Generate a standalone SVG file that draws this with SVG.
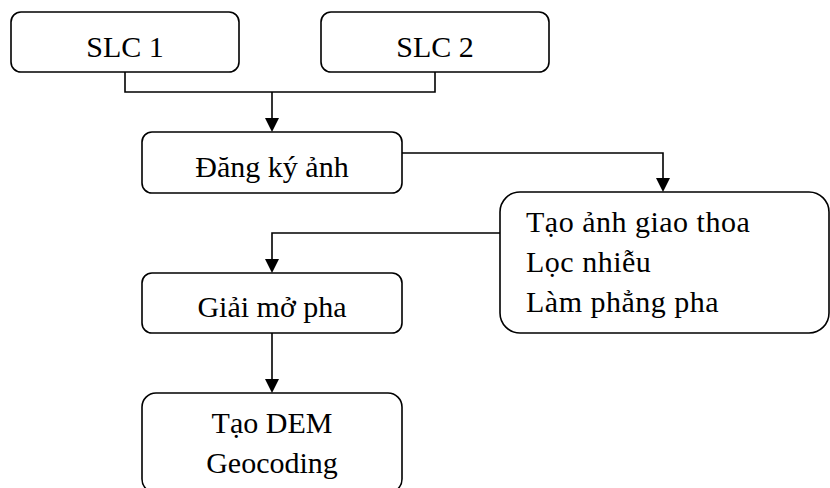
<svg xmlns="http://www.w3.org/2000/svg" width="830" height="488" viewBox="0 0 830 488">
<style>
.box{fill:#fff;stroke:#000;stroke-width:1.6}
.t{font-family:"Liberation Serif","Times New Roman",serif;font-size:30px;fill:#000}
.c{text-anchor:middle}
.ln{fill:none;stroke:#000;stroke-width:1.6}
.ah{fill:#000}
</style>
<g id="connectors">
<path class="ln" d="M125,72 V92 H435 V72"/>
<path class="ln" d="M272,92 V118"/>
<path class="ah" d="M265,118 H279 L272,132 Z"/>
<path class="ln" d="M402,153 H663 V178"/>
<path class="ah" d="M656,178 H670 L663,192 Z"/>
<path class="ln" d="M500,233 H272 V259"/>
<path class="ah" d="M265,259 H279 L272,273 Z"/>
<path class="ln" d="M272,333 V379"/>
<path class="ah" d="M265,379 H279 L272,393 Z"/>
</g>
<g id="slc1">
<rect class="box" x="11" y="12" width="228" height="60" rx="10"/>
<text class="t c" x="125" y="57">SLC 1</text>
</g>
<g id="slc2">
<rect class="box" x="321" y="12" width="228" height="60" rx="10"/>
<text class="t c" x="435" y="57">SLC 2</text>
</g>
<g id="dangky">
<rect class="box" x="142" y="132" width="260" height="61" rx="10"/>
<text class="t c" x="272" y="177">Đăng ký ảnh</text>
</g>
<g id="taoanh">
<rect class="box" x="500" y="192" width="329" height="141" rx="20"/>
<text class="t" x="526" y="232" letter-spacing="0.5">Tạo ảnh giao thoa</text>
<text class="t" x="526" y="272" letter-spacing="0.5">Lọc nhiễu</text>
<text class="t" x="526" y="312" letter-spacing="0.5">Làm phẳng pha</text>
</g>
<g id="giaimo">
<rect class="box" x="142" y="273" width="260" height="60" rx="10"/>
<text class="t c" x="272" y="317">Giải mở pha</text>
</g>
<g id="taodem">
<rect class="box" x="142" y="393" width="260" height="100" rx="14"/>
<text class="t c" x="272" y="433">Tạo DEM</text>
<text class="t c" x="272" y="473">Geocoding</text>
</g>
</svg>
